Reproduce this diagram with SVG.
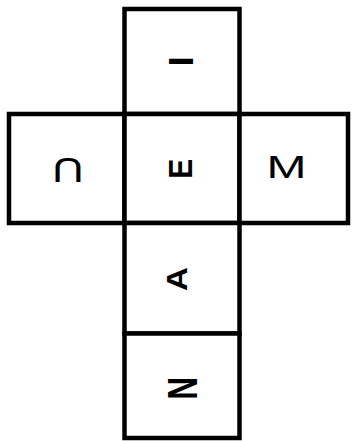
<svg xmlns="http://www.w3.org/2000/svg" width="352" height="441" viewBox="0 0 352 441">
<style>
.face{fill:#fff;stroke:#000;stroke-width:4.5}
.l{font-family:"Liberation Sans",Arial,sans-serif;fill:#000;text-anchor:middle}
.b{font-weight:bold}
</style>
<rect width="352" height="441" fill="#fff"/>
<g id="connectors"></g>
<g id="face-I"><rect class="face" x="124.5" y="9" width="115" height="105"/><text class="l b" font-size="35" transform="translate(181,61.3) rotate(90)" y="12">I</text></g>
<g id="face-U"><rect class="face" x="9" y="114" width="115.5" height="109"/><text class="l" font-size="35" transform="translate(68,170) rotate(180) scale(1.25,1)" y="12">U</text></g>
<g id="face-E"><rect class="face" x="124.5" y="114" width="115" height="109"/><text class="l b" font-size="34" transform="translate(180.5,168.7) rotate(-90) scale(0.88,1)" y="11.7">E</text></g>
<g id="face-M"><rect class="face" x="239.5" y="114" width="108.5" height="109"/><text class="l" font-size="32" transform="translate(286.5,166.5) scale(1.5,1)" y="11">M</text></g>
<g id="face-A"><rect class="face" x="124.5" y="223" width="115" height="110.5"/><text class="l b" font-size="30" transform="translate(177,279) rotate(-90) scale(1.1,1)" y="10.3">A</text></g>
<g id="face-N"><rect class="face" x="124.5" y="333.5" width="115" height="104.5"/><text class="l b" font-size="42" transform="translate(182,388.5) rotate(90) scale(0.75,1)" y="14.4">N</text></g>
</svg>
